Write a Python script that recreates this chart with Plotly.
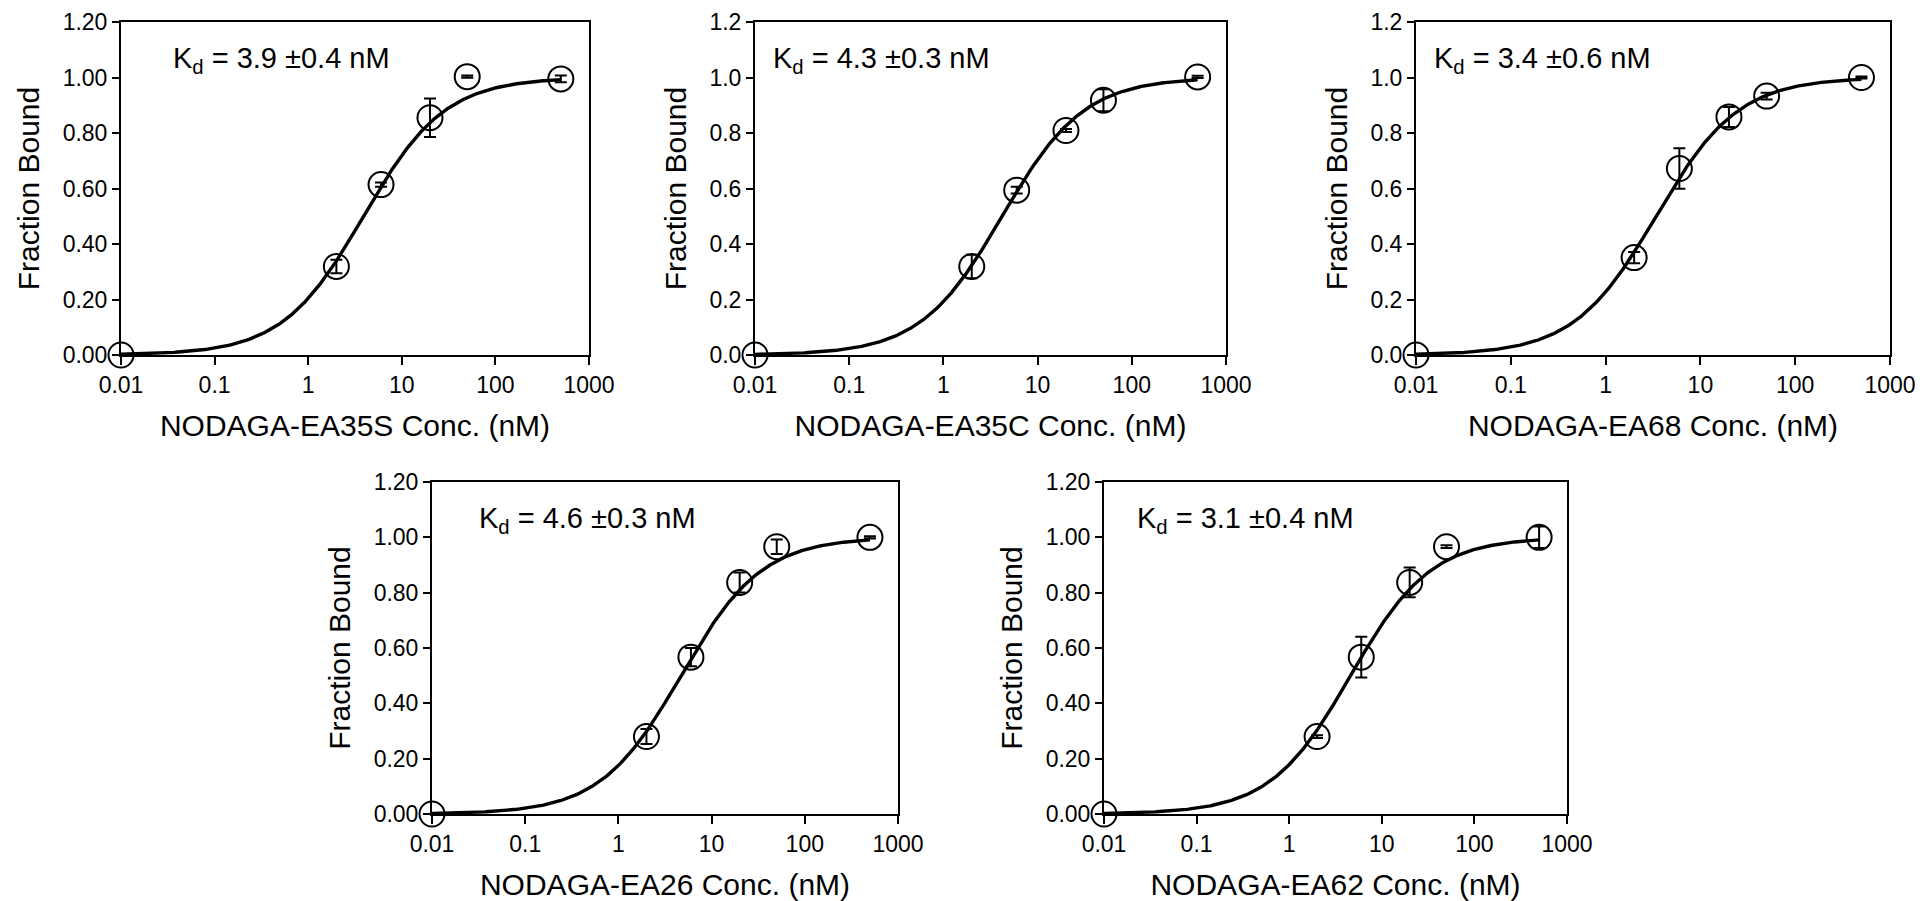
import numpy as np
import plotly.graph_objects as go

# ---- data ----
conc = [0.01, 2, 6, 20, 50, 500]
names = ["NODAGA-EA35S", "NODAGA-EA35C", "NODAGA-EA68", "NODAGA-EA26", "NODAGA-EA62"]
kd = [3.9, 4.3, 3.4, 4.6, 3.1]
kd_err = [0.4, 0.3, 0.6, 0.3, 0.4]
# midpoint of the drawn fit curve
fit_mid = [3.9, 4.2, 3.4, 4.7, 4.6]
frac_35s = [0.0, 0.319, 0.614, 0.855, 1.003, 0.995]
err_35s = [0.0, 0.024, 0.008, 0.069, 0.004, 0.012]
frac_35c = [0.0, 0.319, 0.594, 0.809, 0.918, 1.002]
err_35c = [0.0, 0.042, 0.012, 0.005, 0.040, 0.004]
frac_68 = [0.0, 0.351, 0.672, 0.858, 0.933, 1.000]
err_68 = [0.0, 0.020, 0.073, 0.036, 0.012, 0.004]
frac_26 = [0.0, 0.280, 0.567, 0.837, 0.966, 1.000]
err_26 = [0.0, 0.027, 0.033, 0.036, 0.026, 0.004]
frac_62 = [0.0, 0.280, 0.567, 0.837, 0.966, 1.000]
err_62 = [0.0, 0.005, 0.074, 0.054, 0.005, 0.039]
fracs = [frac_35s, frac_35c, frac_68, frac_26, frac_62]
errs = [err_35s, err_35c, err_68, err_26, err_62]
y_tick_fmt = [".2f", ".1f", ".1f", ".2f", ".2f"]
x_tick_vals = [0.01, 0.1, 1, 10, 100, 1000]
x_tick_text = ["0.01", "0.1", "1", "10", "100", "1000"]
y_tick_vals = [0.0, 0.2, 0.4, 0.6, 0.8, 1.0, 1.2]

# ---- layout geometry (pixels) ----
W, H = 1923, 901
boxes = [  # left, right, top, bottom
    (121, 589, 22, 355),
    (755, 1226, 22, 355),
    (1416, 1890, 22, 355),
    (432, 898, 482, 814),
    (1104, 1567, 482, 814),
]
ann_off = [50, 16, 16, 45, 31]

FONT = "Liberation Sans, Arial, sans-serif"
fig = go.Figure()
layout = dict(width=W, height=H, paper_bgcolor="white", plot_bgcolor="white",
              template="none",
              margin=dict(l=0, r=0, t=0, b=0, autoexpand=False), showlegend=False,
              font=dict(family=FONT, color="black"))
annotations = []
xfit = np.logspace(-2, np.log10(500), 300)
for i in range(5):
    l, r, t, b = boxes[i]
    xs = "x" if i == 0 else f"x{i+1}"
    ys = "y" if i == 0 else f"y{i+1}"
    xk = "xaxis" if i == 0 else f"xaxis{i+1}"
    yk = "yaxis" if i == 0 else f"yaxis{i+1}"
    yfit = xfit / (fit_mid[i] + xfit)
    fig.add_trace(go.Scatter(x=xfit, y=yfit, mode="lines", xaxis=xs, yaxis=ys,
                             line=dict(color="black", width=3.4), cliponaxis=False,
                             hoverinfo="skip"))
    fig.add_trace(go.Scatter(x=conc, y=fracs[i], mode="markers", xaxis=xs, yaxis=ys,
                             marker=dict(symbol="circle-open", size=25, color="black",
                                         line=dict(width=2, color="black")),
                             error_y=dict(type="data", array=errs[i], visible=True,
                                          color="black", thickness=2, width=6),
                             cliponaxis=False))
    layout[xk] = dict(domain=[l / W, r / W], anchor=ys, type="log", range=[-2, 3],
                      automargin=False,
                      tickvals=x_tick_vals, ticktext=x_tick_text,
                      showline=True, linecolor="black", linewidth=2, mirror=True,
                      ticks="outside", ticklen=8, tickwidth=2, tickcolor="black",
                      showgrid=False, zeroline=False,
                      tickfont=dict(size=23, family=FONT, color="black"),
                      title=dict(text=f"{names[i]} Conc. (nM)",
                                 font=dict(size=30, family=FONT, color="black"),
                                 standoff=18))
    layout[yk] = dict(domain=[(H - b) / H, (H - t) / H], anchor=xs, range=[0, 1.2],
                      automargin=False,
                      tickvals=y_tick_vals, tickformat=y_tick_fmt[i],
                      showline=True, linecolor="black", linewidth=2, mirror=True,
                      ticks="outside", ticklen=7, tickwidth=2, tickcolor="black",
                      showgrid=False, zeroline=False,
                      tickfont=dict(size=23, family=FONT, color="black"),
                      title=dict(text="Fraction Bound",
                                 font=dict(size=30, family=FONT, color="black"),
                                 standoff=14))
    annotations.append(dict(xref="paper", yref="paper", x=(l + ann_off[i]) / W,
                            y=(H - (t + 38)) / H, xanchor="left", yanchor="middle",
                            showarrow=False,
                            text=f"K<sub>d</sub> = {kd[i]} ±{kd_err[i]} nM",
                            font=dict(size=29, family=FONT, color="black")))
layout["annotations"] = annotations
fig.update_layout(**layout)
fig.write_html("out.html", config={"displayModeBar": False},
               post_script="document.body.style.margin='0';document.body.style.overflow='hidden';")
